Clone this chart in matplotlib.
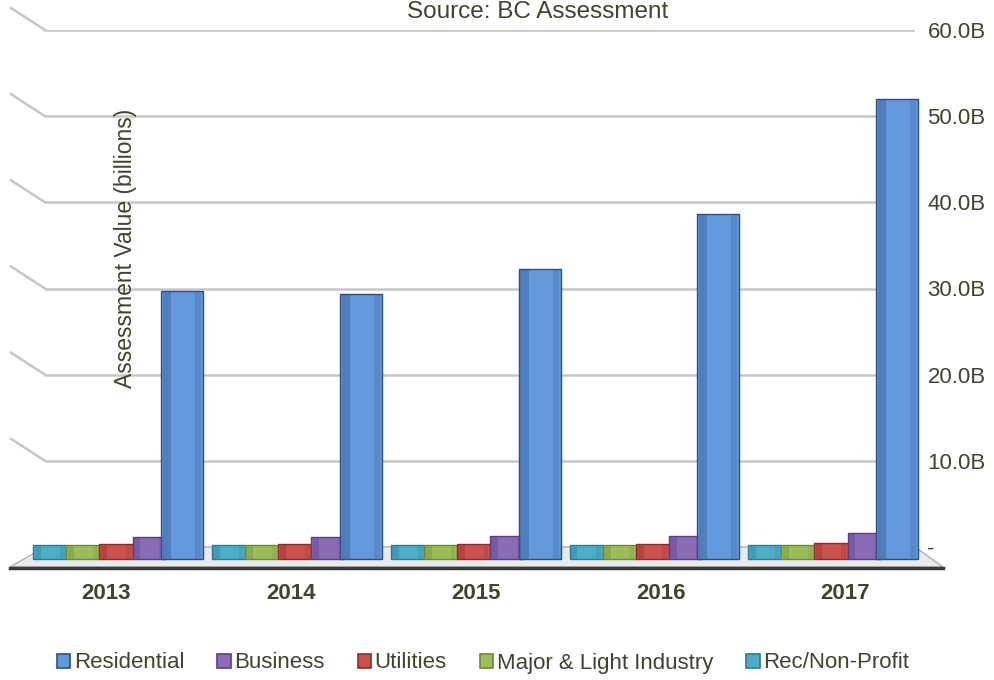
import matplotlib.pyplot as plt
from matplotlib.patches import Polygon, Patch
from matplotlib.lines import Line2D
import numpy as np

plt.rcParams['font.family'] = ['Liberation Sans', 'DejaVu Sans']

years = ['2013', '2014', '2015', '2016', '2017']
# bars left to right inside each year group
series = ['Rec/Non-Profit', 'Major & Light Industry', 'Utilities', 'Business', 'Residential']
rec_nonprofit = [0.2, 0.2, 0.2, 0.2, 0.2]
industry = [0.25, 0.25, 0.25, 0.25, 0.25]
utilities = [0.4, 0.4, 0.4, 0.4, 0.45]
business = [1.2, 1.2, 1.3, 1.3, 1.6]
residential = [29.7, 29.4, 32.3, 38.6, 52.0]
legend_order = ['Residential', 'Business', 'Utilities', 'Major & Light Industry', 'Rec/Non-Profit']
yticks = [0, 10, 20, 30, 40, 50, 60]
ytick_labels = ['-', '10.0B', '20.0B', '30.0B', '40.0B', '50.0B', '60.0B']

values = [rec_nonprofit, industry, utilities, business, residential]
face = {'Residential': '#6498dd', 'Business': '#8a6bb5', 'Utilities': '#cc514d',
        'Major & Light Industry': '#9dbd5a', 'Rec/Non-Profit': '#4cadc8'}
dark = {'Residential': '#2c4f84', 'Business': '#5a3e84', 'Utilities': '#8c2d2a',
        'Major & Light Industry': '#6a8a34', 'Rec/Non-Profit': '#2b7b92'}
txt = '#424232'

W, H = 995, 680
fig = plt.figure(figsize=(W / 100, H / 100), dpi=100)
left, right, bottom, top = 45 / W, 915 / W, 133 / H, 650 / H
ax = fig.add_axes([left, bottom, right - left, top - bottom])
ax.patch.set_alpha(0)
ax.set_xlim(-0.397, 4.47)
ax.set_ylim(0, 60)

# floor plate
floor_b = (H - 567) / H
fig.add_artist(Polygon([[45 / W, bottom], [915 / W, bottom], [943 / W, floor_b], [10 / W, floor_b]],
                       closed=True, facecolor='#e8eaec', edgecolor='#b0b0b0', lw=1, zorder=-2))
fig.add_artist(Line2D([10 / W, 943 / W], [floor_b - 1 / H, floor_b - 1 / H], color='#3a3a3a',
                      lw=2.5, zorder=-1))

# gridlines with the slanted side-wall part
for v in yticks[1:]:
    ax.axhline(v, color='#c6c6c6', lw=1.8, zorder=0)
    yf = bottom + v / 60 * (top - bottom)
    fig.add_artist(Line2D([45 / W, 11 / W], [yf, yf + 22 / H], color='#c6c6c6', lw=1.8))

x = np.arange(len(years))
sink = 1.4
for k, (name, vals) in enumerate(zip(series, values)):
    pos = x + (k - 2) * 0.185
    w = 0.235 if name == 'Residential' else 0.185
    vals = np.array(vals)
    ax.bar(pos, vals + sink, width=w, bottom=-sink, color=face[name],
           edgecolor=dark[name], lw=1.0, zorder=3, clip_on=False)
    # darker bevel strips to fake the 3D look
    ax.bar(pos - w * 0.36, vals + sink, width=w * 0.2, bottom=-sink, color=dark[name],
           alpha=0.35, lw=0, zorder=4, clip_on=False)
    ax.bar(pos + w * 0.38, vals + sink, width=w * 0.14, bottom=-sink, color=dark[name],
           alpha=0.2, lw=0, zorder=4, clip_on=False)

for s in ax.spines.values():
    s.set_visible(False)
ax.set_xticks(x * 1.034 - 0.055)
ax.set_xticklabels(years, fontsize=16, fontweight='bold', color=txt)
ax.tick_params(axis='x', length=0, pad=26)
ax.yaxis.tick_right()
ax.set_yticks(yticks)
ax.set_yticklabels(ytick_labels, fontsize=16, color=txt)
ax.tick_params(axis='y', length=0, pad=9)

fig.text(126 / W, 1 - 248 / H, 'Assessment Value (billions)', rotation=90,
         ha='center', va='center', fontsize=16.5, color=txt)
fig.text(538 / W, 1 - 12 / H, 'Source: BC Assessment', ha='center', va='center',
         fontsize=17.5, color=txt)

handles = [Patch(facecolor=face[n], edgecolor=dark[n], lw=1.2) for n in legend_order]
fig.legend(handles, legend_order, loc='center', bbox_to_anchor=(483 / W, 1 - 663 / H),
           ncol=5, frameon=False, fontsize=16, handlelength=0.6, handleheight=0.6,
           handletextpad=0.15, columnspacing=1.5, labelcolor=txt)

fig.savefig('out.png', dpi=100)
